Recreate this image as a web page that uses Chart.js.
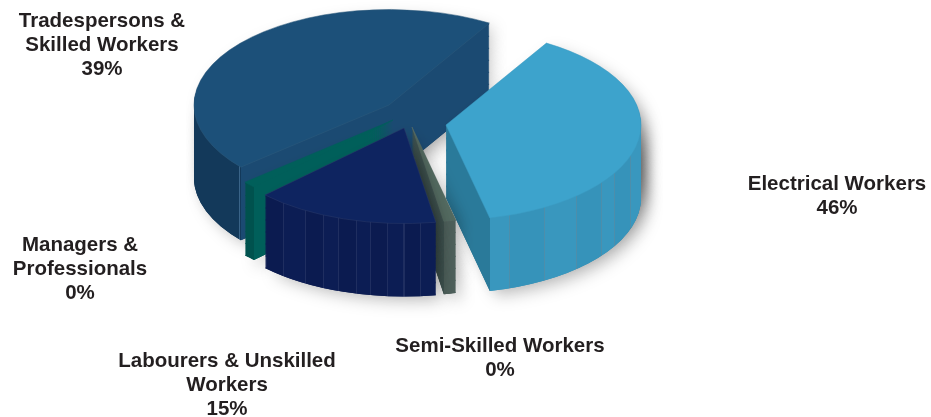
<!DOCTYPE html>
<html>
<head>
<meta charset="utf-8">
<title>Workers by category</title>
<script src="https://cdn.jsdelivr.net/npm/chart.js@4"></script>
<style>
    html, body { margin: 0; padding: 0; background: #fff; }
    canvas { display: block; }
</style>
</head>
<body>
<canvas id="pie3d" width="931" height="417"></canvas>
<script>
// Data: slices run clockwise starting at firstSliceAngle.
const categories = ['Electrical Workers', 'Semi-Skilled Workers', 'Labourers & Unskilled Workers', 'Managers & Professionals', 'Tradespersons & Skilled Workers'];
// Shares measured from the drawn slices; the artwork's printed percentages do not match them.
const sliceShares = [37.8, 1, 15.25, 1.1, 44.9];
const printedPercents = ['46%', '0%', '15%', '0%', '39%'];
const labelLines = [
    ['Electrical Workers'],
    ['Semi-Skilled Workers'],
    ['Labourers & Unskilled', 'Workers'],
    ['Managers &', 'Professionals'],
    ['Tradespersons &', 'Skilled Workers']
];

// Layout of the pseudo-3D pie, in screen pixels.
const firstSliceAngle = 31;
const pieRadius = 195;
const pieCenter = { x: 410, y: 116 };
const tilt = 0.49;
const wallDepth = 73;
const explode = [[36, 9], [2, 11], [-6, 12], [-17, 4], [-21, -11]];
const labelAnchors = [[837, 184], [500, 346], [227, 361], [80, 245], [102, 21]];
const labelLineHeight = 24;

// Styles per slice.
const topColors = ['#3da3cc', '#536a60', '#0e2460', '#005f5a', '#1c5079'];
const topEdgeColors = ['#3b9bc2', '#5a6f66', '#2b3a68', '#005f5a', '#2f5a7c'];
const cutWallColors = ['#2a7a9a', '#3f5350', '#0c1c52', '#005f5a', '#1b4a72'];
const outerWallColors = [['#3997be', '#3693ba'], ['#4d5f5a', '#495b56'], ['#0b1b50', '#0c1d54'], ['#00524e', '#00524e'], ['#13395a', '#13395a']];
const facetLineColors = ['#4d8eab', '#5c6c68', '#1f2e60', '#00524e', '#3a6488'];
const facetAngles = [
    [109, 120, 127, 138, 149.5, 161],
    [],
    [175, 180, 185, 190, 194, 199.5, 204.5, 210.5, 218],
    [],
    [229.9]
];
// Back slices are painted first so that the front ones cover them.
const drawOrder = [4, 3, 0, 1, 2];

function toDeg(rad) {
    return (rad + Math.PI / 2) * 180 / Math.PI;
}

function sinDeg(deg) {
    return Math.sin(deg * Math.PI / 180);
}

/**
 * Builds a horizontal gradient with hard stops: the cut faces on both sides,
 * and the rounded outer wall in the middle, split into facets.
 */
function buildWallFill(ctx, arc, index) {
    const R = arc.outerRadius;
    const x0 = arc.x - R - 1;
    const span = 2 * R + 2;
    const grad = ctx.createLinearGradient(x0, 0, x0 + span, 0);
    const pos = (dx) => Math.min(1, Math.max(0, (arc.x + dx - x0) / span));
    const hard = (from, to, color) => {
        grad.addColorStop(pos(from), color);
        grad.addColorStop(pos(to), color);
    };

    // Only the part of the rim facing the viewer (90 to 270 degrees) is visible.
    const a0 = Math.max(toDeg(arc.startAngle), 90);
    const a1 = Math.min(toDeg(arc.endAngle), 270);
    const edgeA = R * sinDeg(a0);
    const edgeB = R * sinDeg(a1);
    const left = Math.min(edgeA, edgeB);
    const right = Math.max(edgeA, edgeB);

    hard(-R - 1, left, cutWallColors[index]);

    const cuts = facetAngles[index].map((deg) => R * sinDeg(deg)).sort((a, b) => a - b);
    let from = left;
    cuts.forEach((x, i) => {
        hard(from, x - 0.5, outerWallColors[index][i % 2]);
        hard(x - 0.5, x + 0.5, facetLineColors[index]);
        from = x + 0.5;
    });
    hard(from, Math.max(from, right), outerWallColors[index][cuts.length % 2]);
    hard(Math.max(from, right), R + 1, cutWallColors[index]);
    return grad;
}

// Paints one arc element with another fill, squashed and shifted down by the given depth.
function paintLayer(ctx, arc, index, depth, style) {
    const layer = Object.create(arc);
    layer.options = { ...arc.options, ...style };
    ctx.save();
    ctx.translate(pieCenter.x + explode[index][0], pieCenter.y + explode[index][1] + depth);
    ctx.scale(1, tilt);
    ctx.translate(-arc.x, -arc.y);
    layer.draw(ctx);
    ctx.restore();
}

const pie3dPlugin = {
    id: 'pie3d',
    beforeDatasetsDraw(chart) {
        const { ctx } = chart;
        const arcs = chart.getDatasetMeta(0).data;

        drawOrder.forEach((index) => {
            const arc = arcs[index];
            const wallFill = { backgroundColor: buildWallFill(ctx, arc, index) };

            // Soft drop shadow behind the whole block.
            ctx.save();
            ctx.shadowColor = 'rgba(0, 0, 0, 0.2)';
            ctx.shadowBlur = 15;
            ctx.shadowOffsetX = 7;
            ctx.shadowOffsetY = 6;
            for (let depth = wallDepth; depth >= 0; depth -= 12) {
                paintLayer(ctx, arc, index, depth, wallFill);
            }
            ctx.restore();

            for (let depth = wallDepth; depth > 0; depth--) {
                paintLayer(ctx, arc, index, depth, wallFill);
            }
            paintLayer(ctx, arc, index, 0, {
                backgroundColor: topColors[index],
                borderColor: topEdgeColors[index],
                borderWidth: 0.7
            });
        });
        return false; // slices are already painted
    },
    afterDraw(chart) {
        const { ctx } = chart;
        ctx.save();
        ctx.font = 'bold 20.5px "Liberation Sans", Arial, sans-serif';
        ctx.fillStyle = '#231f20';
        ctx.textAlign = 'center';
        ctx.textBaseline = 'middle';
        categories.forEach((name, i) => {
            const lines = [...labelLines[i], printedPercents[i]];
            lines.forEach((line, n) => {
                ctx.fillText(line, labelAnchors[i][0], labelAnchors[i][1] + n * labelLineHeight);
            });
        });
        ctx.restore();
    }
};

new Chart(document.getElementById('pie3d').getContext('2d'), {
    type: 'pie',
    data: {
        labels: categories,
        datasets: [{
            data: sliceShares,
            backgroundColor: topColors,
            borderWidth: 0
        }]
    },
    options: {
        responsive: false,
        animation: false,
        rotation: firstSliceAngle,
        radius: pieRadius,
        layout: { padding: 0 },
        plugins: {
            legend: { display: false },
            tooltip: { enabled: false }
        }
    },
    plugins: [pie3dPlugin]
});
</script>
</body>
</html>
